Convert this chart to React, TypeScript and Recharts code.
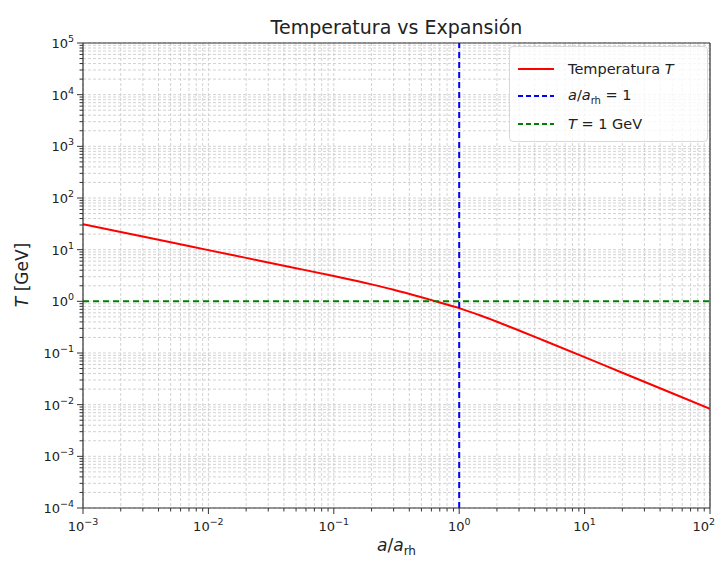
import { LineChart, Line, XAxis, YAxis, CartesianGrid, ReferenceLine } from "recharts";

// a/a_rh values and temperature T [GeV]
const scaleFactors = [0.001, 0.002, 0.005, 0.01, 0.02, 0.05, 0.1, 0.2, 0.3, 0.5, 0.7, 1, 1.5, 2, 3, 5, 10, 20, 50, 100];
const temperatures = [31, 21.9, 13.9, 9.8, 6.93, 4.38, 3.08, 2.13, 1.68, 1.2, 0.95, 0.74, 0.525, 0.403, 0.273, 0.165, 0.083, 0.0414, 0.0166, 0.0083];

const xMajorTicks = [1e-3, 1e-2, 1e-1, 1, 10, 100];
const xTickExponents = ["\u22123", "\u22122", "\u22121", "0", "1", "2"];
const yMajorTicks = [1e-4, 1e-3, 1e-2, 1e-1, 1, 10, 100, 1e3, 1e4, 1e5];
const yTickExponents = ["\u22124", "\u22123", "\u22122", "\u22121", "0", "1", "2", "3", "4", "5"];
const minorSteps = [2, 3, 4, 5, 6, 7, 8, 9];

const withMinors = (majors: number[]) => {
  const out: number[] = [];
  majors.forEach((m, i) => {
    out.push(m);
    if (i < majors.length - 1) minorSteps.forEach((s) => out.push(m * s));
  });
  return out;
};

const xTicks = withMinors(xMajorTicks);
const yTicks = withMinors(yMajorTicks);

const data = scaleFactors.map((a, i) => ({ a, T: temperatures[i] }));

const FONT = "DejaVu Sans, sans-serif";
const TICK_COLOR = "#222";

const majorIndex = (v: number, majors: number[]) =>
  majors.findIndex((m) => Math.abs(Math.log10(v) - Math.log10(m)) < 1e-6);

const YTick = (props: any) => {
  const { x, y, payload } = props;
  const idx = majorIndex(payload.value, yMajorTicks);
  const len = idx >= 0 ? 6 : 3.5;
  return (
    <g>
      <line x1={x - len} x2={x} y1={y} y2={y} stroke="#333" strokeWidth={1} />
      {idx >= 0 && (
        <text x={x - 9} y={y + 5} textAnchor="end" fontFamily={FONT} fontSize={13} fill={TICK_COLOR}>
          <tspan>10</tspan>
          <tspan dy={-6} fontSize={9.5}>{yTickExponents[idx]}</tspan>
        </text>
      )}
    </g>
  );
};

const XTick = (props: any) => {
  const { x, y, payload } = props;
  const idx = majorIndex(payload.value, xMajorTicks);
  const len = idx >= 0 ? 6 : 3.5;
  const last = idx === xMajorTicks.length - 1;
  return (
    <g>
      <line x1={x} x2={x} y1={y} y2={y + len} stroke="#333" strokeWidth={1} />
      {idx >= 0 && (
        <text
          x={last ? x + 5 : x}
          y={y + 23}
          textAnchor={last ? "end" : "middle"}
          fontFamily={FONT}
          fontSize={13}
          fill={TICK_COLOR}
        >
          <tspan>10</tspan>
          <tspan dy={-6} fontSize={9.5}>{xTickExponents[idx]}</tspan>
        </text>
      )}
    </g>
  );
};

const legendItems = [
  { color: "#ff0000", dash: undefined, label: <>Temperatura <i>T</i></> },
  { color: "#0000ff", dash: "5 3", label: <><i>a</i>/<i>a</i><sub style={{ fontSize: 10 }}>rh</sub> = 1</> },
  { color: "#008000", dash: "5 3", label: <><i>T</i> = 1 GeV</> },
];

const LegendBox = () => (
  <div
    style={{
      position: "absolute",
      top: 38,
      left: 501,
      width: 197,
      height: 86,
      background: "rgba(255,255,255,0.8)",
      border: "1px solid #d8d8d8",
      borderRadius: 4,
      fontFamily: FONT,
      fontSize: 14.5,
      color: "#222",
      paddingTop: 8,
      zIndex: 2,
    }}
  >
    {legendItems.map((it, i) => (
      <div key={i} style={{ display: "flex", alignItems: "center", height: 27.5, paddingLeft: 8 }}>
        <svg width={36} height={10} style={{ marginRight: 14 }}>
          <line x1={0} x2={36} y1={5} y2={5} stroke={it.color} strokeWidth={2} strokeDasharray={it.dash} />
        </svg>
        <span style={{ whiteSpace: "nowrap" }}>{it.label}</span>
      </div>
    ))}
  </div>
);

export default function App() {
  return (
    <div style={{ position: "relative", width: 716, height: 548, fontFamily: FONT }}>
      <div
        style={{
          position: "absolute",
          left: 75,
          width: 627,
          top: 8,
          textAlign: "center",
          fontSize: 19,
          color: "#222",
        }}
      >
        Temperatura vs Expansión
      </div>
      <div
        style={{
          position: "absolute",
          left: 14,
          top: 267,
          transform: "translate(-50%, -50%) rotate(-90deg)",
          fontSize: 17,
          color: "#222",
          whiteSpace: "nowrap",
        }}
      >
        <i>T</i> [GeV]
      </div>
      <div
        style={{
          position: "absolute",
          left: 75,
          width: 627,
          top: 527,
          textAlign: "center",
          fontSize: 17,
          color: "#222",
          lineHeight: "20px",
        }}
      >
        <i>a</i>/<i>a</i>
        <sub style={{ fontSize: 12, lineHeight: 0 }}>rh</sub>
      </div>
      <LegendBox />
      <LineChart
        width={716}
        height={548}
        data={data}
        margin={{ top: 35, right: 14, left: 0, bottom: 0 }}
        style={{ overflow: "visible" }}
      >
        <CartesianGrid
          horizontalValues={yTicks}
          verticalValues={xTicks}
          stroke="#c8c8c8"
          strokeDasharray="3 2"
          strokeWidth={0.8}
        />
        <XAxis
          dataKey="a"
          type="number"
          scale="log"
          domain={[0.001, 100]}
          ticks={xTicks}
          interval={0}
          allowDataOverflow
          height={48}
          tickSize={0}
          tickMargin={0}
          tickLine={false}
          axisLine={{ stroke: "#333", strokeWidth: 1.2 }}
          tick={<XTick />}
        />
        <YAxis
          type="number"
          scale="log"
          domain={[1e-4, 1e5]}
          ticks={yTicks}
          interval={0}
          allowDataOverflow
          width={75}
          tickSize={0}
          tickMargin={0}
          tickLine={false}
          axisLine={{ stroke: "#333", strokeWidth: 1.2 }}
          tick={<YTick />}
        />
        <ReferenceLine x={100} stroke="#333" strokeWidth={1.2} />
        <ReferenceLine y={1e5} stroke="#333" strokeWidth={1.2} />
        <Line
          type="monotone"
          dataKey="T"
          stroke="#ff0000"
          strokeWidth={2}
          dot={false}
          isAnimationActive={false}
        />
        <ReferenceLine x={1} stroke="#0000ff" strokeWidth={2} strokeDasharray="6 4" />
        <ReferenceLine y={1} stroke="#008000" strokeWidth={2} strokeDasharray="6 4" />
      </LineChart>
    </div>
  );
}
